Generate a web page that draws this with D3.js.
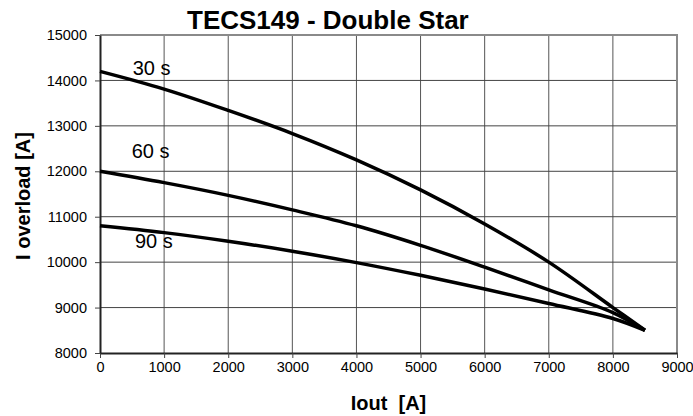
<!DOCTYPE html>
<html>
<head>
<meta charset="utf-8">
<script src="https://cdn.jsdelivr.net/npm/d3@7"></script>
<style>
    body { margin: 0; background: #fff; }
    svg { display: block; font-family: Arial, "Liberation Sans", sans-serif; }
</style>
</head>
<body>
<div id="chart"></div>
<script>
// output current (x values) shared by every curve
const iout = [0, 1000, 2000, 3000, 4000, 5000, 6000, 7000, 8000, 8500]

// overload current for each duration
const load30 = [14200, 13810, 13340, 12830, 12250, 11590, 10840, 10000, 9000, 8500]
const load60 = [12000, 11750, 11470, 11150, 10800, 10370, 9890, 9390, 8890, 8500]
const load90 = [10800, 10650, 10460, 10240, 9990, 9710, 9410, 9090, 8760, 8500]

// curve names and where their label sits (data coordinates)
const seriesNames = ["30 s", "60 s", "90 s"]
const labelPos = [[510, 14120], [495, 12300], [546, 10310]]

// axis ticks
const xTicks = [0, 1000, 2000, 3000, 4000, 5000, 6000, 7000, 8000, 9000]
const yTicks = [8000, 9000, 10000, 11000, 12000, 13000, 14000, 15000]

/**
 * Draws the overload chart.
 */
function drawChart() {
    const width = 693
    const height = 416
    const left = 100, right = 677, top = 35, bottom = 353

    const svg = d3.select("#chart")
        .append("svg")
        .attr("width", width)
        .attr("height", height)

    const x = d3.scaleLinear().domain([0, 9000]).range([left, right])
    const y = d3.scaleLinear().domain([8000, 15000]).range([bottom, top])

    // grid lines
    svg.append("g")
        .selectAll("line")
        .data(xTicks.slice(1, -1))
        .join("line")
        .attr("x1", d => x(d)).attr("x2", d => x(d))
        .attr("y1", top).attr("y2", bottom)
        .attr("stroke", "#555")
        .attr("stroke-width", 1)
    svg.append("g")
        .selectAll("line")
        .data(yTicks.slice(1, -1))
        .join("line")
        .attr("x1", left).attr("x2", right)
        .attr("y1", d => y(d)).attr("y2", d => y(d))
        .attr("stroke", "#444")
        .attr("stroke-width", 1)

    // top and right frame in gray
    svg.append("path")
        .attr("d", `M${left},${top}H${right}V${bottom}`)
        .attr("fill", "none")
        .attr("stroke", "#8a8a8a")
        .attr("stroke-width", 2)

    // x axis
    const xAxis = svg.append("g")
        .attr("transform", `translate(0,${bottom})`)
        .call(d3.axisBottom(x).tickValues(xTicks).tickFormat(d3.format("d")).tickSize(5).tickSizeOuter(0))
    xAxis.select(".domain").attr("stroke", "#222").attr("stroke-width", 2)
    xAxis.selectAll(".tick line").attr("stroke", "#444")
    xAxis.selectAll(".tick text")
        .attr("fill", "#000")
        .attr("font-size", "14.5px")
        .attr("font-family", "Arial, 'Liberation Sans', sans-serif")
        .attr("y", 9)

    // y axis
    const yAxis = svg.append("g")
        .attr("transform", `translate(${left},0)`)
        .call(d3.axisLeft(y).tickValues(yTicks).tickFormat(d3.format("d")).tickSize(5).tickSizeOuter(0))
    yAxis.select(".domain").attr("stroke", "#222").attr("stroke-width", 2)
    yAxis.selectAll(".tick line").attr("stroke", "#444")
    yAxis.selectAll(".tick text")
        .attr("fill", "#000")
        .attr("font-size", "14.5px")
        .attr("font-family", "Arial, 'Liberation Sans', sans-serif")
        .attr("x", -13)

    // curves
    const line = d3.line()
        .x((d, i) => x(iout[i]))
        .y(d => y(d))
        .curve(d3.curveCatmullRom)
    svg.append("g")
        .selectAll("path")
        .data([load30, load60, load90])
        .join("path")
        .attr("d", d => line(d))
        .attr("fill", "none")
        .attr("stroke", "#000")
        .attr("stroke-width", 3.5)
        .attr("stroke-linejoin", "round")

    // curve labels
    svg.append("g")
        .selectAll("text")
        .data(seriesNames)
        .join("text")
        .attr("x", (d, i) => x(labelPos[i][0]))
        .attr("y", (d, i) => y(labelPos[i][1]))
        .attr("font-size", "20px")
        .text(d => d)

    // title
    svg.append("text")
        .attr("x", 187)
        .attr("y", 29)
        .attr("font-size", "26px")
        .attr("font-weight", "bold")
        .text("TECS149 - Double Star")

    // axis titles
    svg.append("text")
        .attr("x", (left + right) / 2)
        .attr("y", 410)
        .attr("text-anchor", "middle")
        .attr("font-size", "20px")
        .attr("font-weight", "bold")
        .style("white-space", "pre")
        .text("Iout  [A]")
    svg.append("text")
        .attr("transform", "translate(29.5,196) rotate(-90)")
        .attr("text-anchor", "middle")
        .attr("font-size", "20px")
        .attr("font-weight", "bold")
        .text("I overload [A]")
}

drawChart()
</script>
</body>
</html>
